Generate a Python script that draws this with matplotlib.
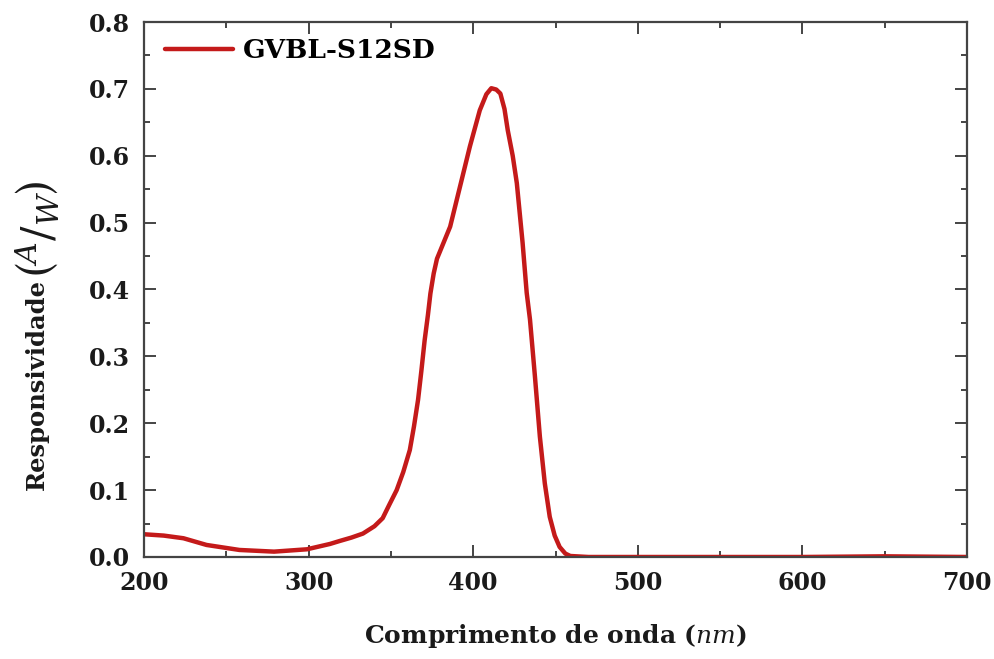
import numpy as np
import matplotlib
matplotlib.use("Agg")
from matplotlib import pyplot as plt
from matplotlib.ticker import MultipleLocator

# Espectro de responsividade
wavelength = [200, 212, 224, 238, 258, 279, 299, 313, 319, 326, 333, 340, 345,
              349, 353.5, 357.5, 361.5, 364, 366.5, 368.5, 370.5, 372.5, 374,
              376, 378, 382, 386, 392, 398, 404, 408, 411, 414, 416.5, 419, 421,
              424, 426.5, 430, 432.5, 434.5, 437.5, 440.5, 443.5, 446.5, 449.5,
              452.5, 456, 459, 470, 500, 550, 600, 650, 700]
responsivity = [0.034, 0.032, 0.028, 0.018, 0.0105, 0.008, 0.0115, 0.0195, 0.024,
                0.029, 0.035, 0.046, 0.058, 0.078, 0.100, 0.127, 0.160, 0.195,
                0.235, 0.278, 0.324, 0.362, 0.394, 0.424, 0.446, 0.470, 0.494,
                0.554, 0.614, 0.668, 0.692, 0.701, 0.699, 0.693, 0.670, 0.638,
                0.600, 0.559, 0.470, 0.395, 0.355, 0.270, 0.180, 0.110, 0.060,
                0.032, 0.015, 0.005, 0.0015, 0.0, 0.0, 0.0, 0.0, 0.001, 0.0]
label = "GVBL-S12SD"

plt.rcParams['font.family'] = ['DejaVu Serif']
plt.rcParams['font.weight'] = 'bold'
plt.rcParams['mathtext.fontset'] = 'custom'
plt.rcParams['mathtext.rm'] = 'DejaVu Serif:normal'
plt.rcParams['mathtext.it'] = 'DejaVu Serif:italic:normal'
plt.rcParams['mathtext.fallback'] = 'stix'

fig = plt.figure(figsize=(9.95, 6.59), dpi=100)
ax = fig.add_axes([0.1447, 0.1548, 0.8272, 0.8118])

ax.plot(wavelength, responsivity, color='#c41a1a', lw=3.2, label=label,
        solid_joinstyle='round', solid_capstyle='round')

ax.set_xlim(200, 700)
ax.set_ylim(0, 0.8)
ax.xaxis.set_major_locator(MultipleLocator(100))
ax.xaxis.set_minor_locator(MultipleLocator(50))
ax.yaxis.set_major_locator(MultipleLocator(0.1))
ax.yaxis.set_minor_locator(MultipleLocator(0.05))
ax.yaxis.set_major_formatter(plt.FuncFormatter(lambda v, p: f"{v:.1f}"))

for s in ax.spines.values():
    s.set_color('#444444')
    s.set_linewidth(1.6)
ax.tick_params(which='both', direction='in', top=True, right=True,
               colors='#444444', labelcolor='#1a1a1a', labelsize=17)
ax.tick_params(which='major', length=8.5, width=1.4)
ax.tick_params(which='minor', length=4.5, width=1.4)
ax.tick_params(axis='x', pad=10)
ax.tick_params(axis='y', pad=10)

ax.set_xlabel(r'Comprimento de onda ($nm$)', fontsize=18, fontweight='bold',
              color='#1a1a1a', va='center')
ax.xaxis.set_label_coords(0.5, -0.148)

# rotulo do eixo y: texto + unidade (A/W) maior
fig.text(0.0372, 0.4158, 'Responsividade', rotation=90, fontsize=17.5,
         fontweight='bold', color='#1a1a1a', ha='center', va='center')
fig.text(0.0372, 0.651, r'$\left(^{A}/_{W}\right)$', rotation=90,
         fontsize=31, fontweight='normal', color='#1a1a1a',
         ha='center', va='center')

ax.legend(loc='upper left', frameon=False, fontsize=19, handlelength=2.58,
          handletextpad=0.38, borderaxespad=0.3, borderpad=0.3,
          bbox_to_anchor=(0.006, 1.0))

fig.savefig('out.png', dpi=100)
